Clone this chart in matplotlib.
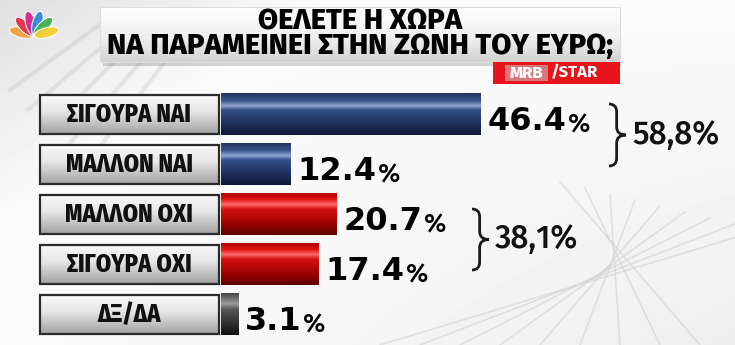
import numpy as np
import matplotlib
matplotlib.use("Agg")
import matplotlib.pyplot as plt
from matplotlib.patches import Rectangle, Ellipse, PathPatch
from matplotlib.path import Path
from matplotlib.colors import LinearSegmentedColormap

# ---------------- data ----------------
categories = ["ΣΙΓΟΥΡΑ ΝΑΙ", "ΜΑΛΛΟΝ ΝΑΙ", "ΜΑΛΛΟΝ ΟΧΙ", "ΣΙΓΟΥΡΑ ΟΧΙ", "ΔΞ/ΔΑ"]
values = [46.4, 12.4, 20.7, 17.4, 3.1]
groups = ["yes", "yes", "no", "no", "dk"]
group_totals = ["58,8%", "38,1%"]
title_lines = ["ΘΕΛΕΤΕ Η ΧΩΡΑ", "ΝΑ ΠΑΡΑΜΕΙΝΕΙ ΣΤΗΝ ΖΩΝΗ ΤΟΥ ΕΥΡΩ;"]
source_a = "MRB"
source_b = "/STAR"

# ---------------- styles ----------------
W, H = 735, 345
COND = ["Fira Sans Condensed", "DejaVu Sans"]
HEAVY = ["Fira Sans", "DejaVu Sans"]
cmaps = {
    "yes": LinearSegmentedColormap.from_list("b", [(0, "#22345f"), (0.18, "#3d5690"), (0.3, "#93a6d2"),
                                                   (0.4, "#34508a"), (0.75, "#1d2d5a"), (1, "#0f1836")]),
    "no": LinearSegmentedColormap.from_list("r", [(0, "#b00000"), (0.15, "#e01515"), (0.27, "#ff6a6a"),
                                                  (0.38, "#d41010"), (0.75, "#9a0000"), (1, "#5c0000")]),
    "dk": LinearSegmentedColormap.from_list("k", [(0, "#444444"), (0.25, "#9a9a9a"), (0.4, "#555555"),
                                                  (1, "#111111")]),
}
label_cmap = LinearSegmentedColormap.from_list("l", [(0, "#fafafa"), (0.45, "#e6e6e6"), (1, "#a5a5a5")])
grad = np.linspace(0, 1, 200).reshape(-1, 1)

fig = plt.figure(figsize=(W / 100, H / 100), dpi=100)

# background (pixel coordinates)
bg = fig.add_axes([0, 0, 1, 1])
bg.set_xlim(0, W)
bg.set_ylim(H, 0)
bg.axis("off")
yy, xx = np.mgrid[0:H, 0:W]
base = 0.985 - 0.11 * np.clip(1 - (xx / 320 + yy / 220), 0, 1) - 0.05 * (yy / H) * (xx / W)
bg.imshow(base, cmap="gray", vmin=0, vmax=1, extent=(0, W, H, 0), aspect="auto", zorder=0)
for k in range(9):
    x0 = 380 + k * 40
    bg.plot([x0, 760 - k * 25], [H, 230 - k * 6], color="#d2d2d2", lw=1.2, alpha=0.6, zorder=1)
for k in range(5):
    bg.plot([10 + k * 18, 120 + k * 15], [90 + k * 20, 10 + k * 8], color="#bcbcbc", lw=3, alpha=0.3, zorder=1)

# logo petals
petal_colors = ["#f5a040", "#e5304a", "#d0288e", "#2a8ad8", "#3cb54a", "#f3d030"]
for a, c in zip(np.linspace(-75, 75, 6), petal_colors):
    r = np.radians(a)
    bg.add_patch(Ellipse((34 + 13 * np.sin(r), 36 - 13 * np.cos(r)), 10, 25, angle=a,
                         facecolor=c, edgecolor="white", lw=0.8, alpha=0.95, zorder=2))

# title box
bg.add_patch(Rectangle((103, 10), 518, 56, facecolor="#00000028", edgecolor="none", zorder=2))
tbox = Rectangle((100, 7), 520, 55, facecolor="none", edgecolor="#dddddd", lw=0.8, zorder=4)
bg.add_patch(tbox)
tim = bg.imshow(LinearSegmentedColormap.from_list("t", [(0, "#ffffff"), (0.55, "#f0f0f0"), (1, "#d2d2d2")])(grad),
                extent=(100, 620, 62, 7), aspect="auto", zorder=3)
tim.set_clip_path(tbox)
bg.text(360, 21.5, title_lines[0], ha="center", va="center", fontsize=21, fontweight=800,
        family=HEAVY, color="black", zorder=5)
bg.text(360, 46.5, title_lines[1], ha="center", va="center", fontsize=21, fontweight=800,
        family=HEAVY, color="black", zorder=5)
# source box
bg.add_patch(Rectangle((493, 62), 127, 22, facecolor="#e8141b", edgecolor="none", zorder=4))
bg.add_patch(Rectangle((505, 65), 43, 16, facecolor="#c9c9c9", edgecolor="none", alpha=0.55, zorder=5))
bg.text(526.5, 73, source_a, ha="center", va="center", fontsize=12, fontweight=800,
        family=HEAVY, color="white", zorder=6)
bg.text(551, 73, source_b, ha="left", va="center", fontsize=12, fontweight=700,
        family=HEAVY, color="white", zorder=6)

# bar axes: 5.6 px per percent, origin at x=221 px
px_per = 5.6
origin = 221
ax = fig.add_axes([0, (H - 339) / H, 1, 250 / H])
ax.axis("off")
ax.patch.set_visible(False)
n = len(values)
bh = 0.84
lab_left = -(origin - 40) / px_per
lab_right = -2.5 / px_per
for i, (cat, v, g) in enumerate(zip(categories, values, groups)):
    # label box
    lb = Rectangle((lab_left, i - 0.39), lab_right - lab_left, 0.78,
                   facecolor="none", edgecolor="#2b2b2b", lw=1.6, zorder=4)
    ax.add_patch(lb)
    li = ax.imshow(label_cmap(grad), extent=(lab_left, lab_right, i + 0.39, i - 0.39), aspect="auto", zorder=3)
    li.set_clip_path(lb)
    ax.text((lab_left + lab_right) / 2, i + 0.02, cat, ha="center", va="center", fontsize=17.5,
            fontweight=800, family=COND, color="#111111", zorder=5)
    # bar
    rect = Rectangle((0, i - bh / 2), v, bh, facecolor="none", edgecolor="none", zorder=3)
    ax.add_patch(rect)
    im = ax.imshow(cmaps[g](grad), extent=(0, v, i + bh / 2, i - bh / 2), aspect="auto", zorder=3)
    im.set_clip_path(rect)
    # value label
    t = ax.text(v + 7 / px_per, i + 0.33, f"{v:.1f}", ha="left", va="baseline", fontsize=23,
                fontweight="bold", family=["DejaVu Sans"], color="black", zorder=5)
    ax.annotate("%", xy=(1, 0), xycoords=t, xytext=(1, 0), textcoords="offset points",
                ha="left", va="bottom", fontsize=19, fontweight=500, family=HEAVY,
                color="black", zorder=5)
ax.set_xlim(-origin / px_per, (W - origin) / px_per)
ax.set_ylim(n - 0.5, -0.5)


def brace(axis, x, y0, y1, w, **kw):
    ym = (y0 + y1) / 2
    xm = x + w * 0.45
    r = min(8, (y1 - y0) / 6)
    verts = [(x, y0), (xm, y0), (xm, y0 + r),
             (xm, ym - r),
             (xm, ym), (x + w, ym), (x + w, ym),
             (xm, ym), (xm, ym + r),
             (xm, y1 - r),
             (xm, y1), (x, y1), (x, y1)]
    codes = [Path.MOVETO, Path.CURVE3, Path.CURVE3, Path.LINETO,
             Path.CURVE3, Path.CURVE3, Path.MOVETO,
             Path.CURVE3, Path.CURVE3, Path.LINETO,
             Path.CURVE3, Path.CURVE3, Path.LINETO]
    axis.add_patch(PathPatch(Path(verts, codes), facecolor="none", **kw))


brace(bg, 609, 104, 166, 17, edgecolor="#1a1a1a", lw=2, zorder=5)
bg.text(632, 135, group_totals[0], ha="left", va="center", fontsize=23, fontweight=500,
        family=HEAVY, color="#111111", zorder=5)
brace(bg, 472, 209, 270, 17, edgecolor="#1a1a1a", lw=2, zorder=5)
bg.text(495, 239, group_totals[1], ha="left", va="center", fontsize=23, fontweight=500,
        family=HEAVY, color="#111111", zorder=5)

fig.savefig("out.png", dpi=100)
